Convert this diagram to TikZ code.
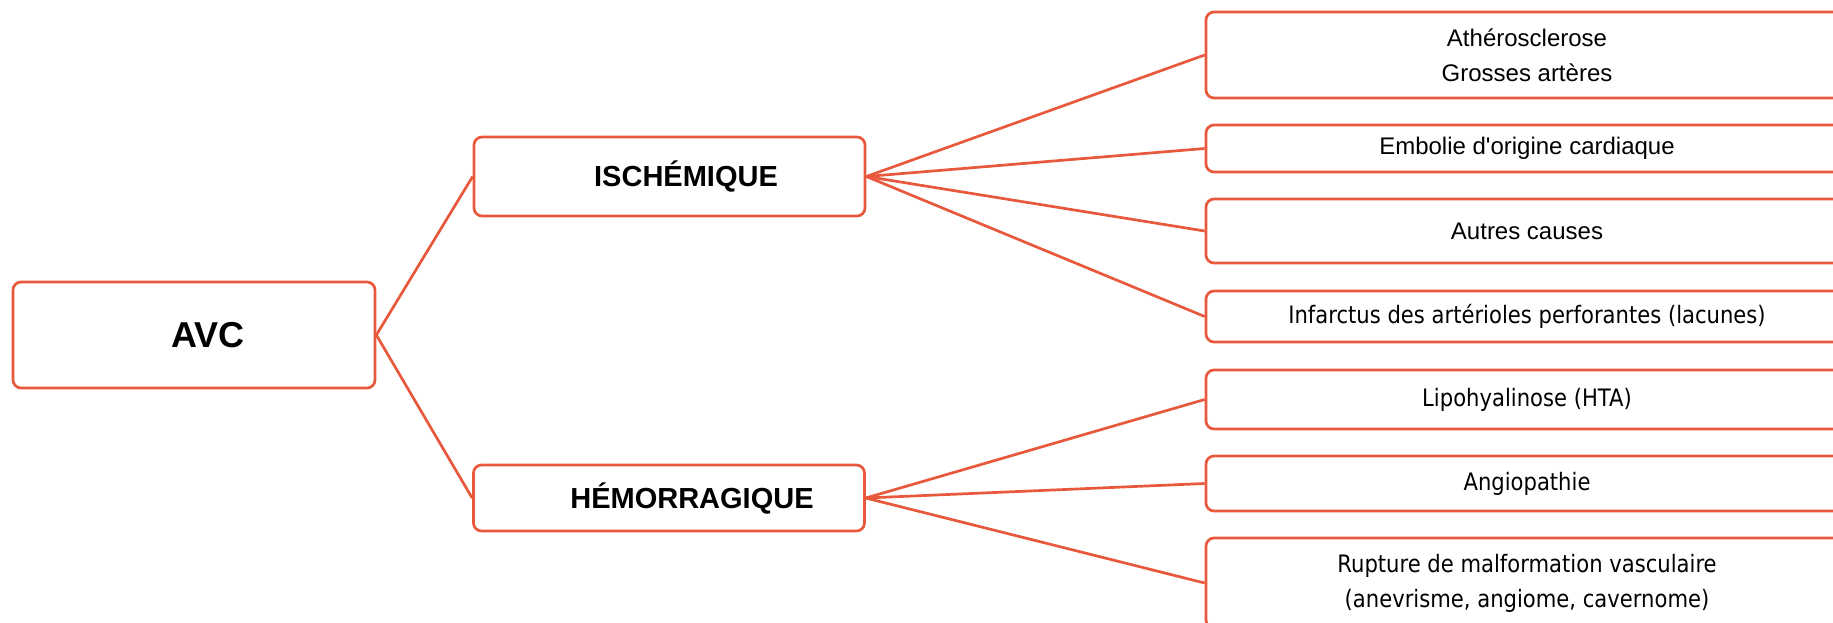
\documentclass[tikz,border=0pt]{standalone}
\usepackage{fontspec}
\setmainfont{Liberation Sans}
\newfontfamily\narrowfont{DejaVu Sans}[FakeStretch=0.88]
\usepackage{tikz}
\definecolor{avcred}{RGB}{232,88,60}

\begin{document}
\begin{tikzpicture}[x=1pt,y=-1pt,
    box/.style={draw=avcred,line width=2.7pt,rounded corners=8pt,fill=white,inner sep=0pt,align=center},
    head/.style={box,minimum width=391pt,font=\fontsize{29}{35}\selectfont\bfseries},
    cause/.style={box,minimum width=642pt,font=\fontsize{24}{35}\selectfont},
    narrowcause/.style={cause,font=\fontsize{24}{35}\selectfont\narrowfont},
    link/.style={draw=avcred,line width=2.7pt}]
    \useasboundingbox (0,0) rectangle (1833,622);
    \clip (0,0) rectangle (1833,622);
    % root
    \node[box,minimum width=362pt,minimum height=106pt,font=\fontsize{36}{40}\selectfont\bfseries]
      (avc) at (194,335) {\hspace*{28pt}AVC};
    % two kinds
    \node[head,minimum height=79pt] (isch) at (669.5,176.5) {\hspace*{33pt}ISCHÉMIQUE};
    \node[head,minimum height=66pt] (hemo) at (669,498) {\hspace*{46pt}HÉMORRAGIQUE};
    % causes
    \node[cause,minimum height=86pt] (ath) at (1527,55) {Athérosclerose\\Grosses artères};
    \node[cause,minimum height=47pt] (emb) at (1527,148.5) {Embolie d\textquotesingle origine cardiaque};
    \node[cause,minimum height=64pt] (aut) at (1527,231) {Autres causes};
    \node[narrowcause,minimum height=51pt] (inf) at (1527,316.5) {Infarctus des artérioles perforantes (lacunes)};
    \node[narrowcause,minimum height=59pt] (lip) at (1527,399.5) {Lipohyalinose (HTA)};
    \node[narrowcause,minimum height=55pt] (ang) at (1527,483.5) {Angiopathie};
    \node[narrowcause,minimum height=90pt] (rup) at (1527,583) {Rupture de malformation vasculaire\\(anevrisme, angiome, cavernome)};
    \foreach \n in {isch,hemo}
      \draw[link] (avc.east) -- (\n.west);
    \foreach \n in {ath,emb,aut,inf}
      \draw[link] (isch.east) -- (\n.west);
    \foreach \n in {lip,ang,rup}
      \draw[link] (hemo.east) -- (\n.west);
\end{tikzpicture}
\end{document}
